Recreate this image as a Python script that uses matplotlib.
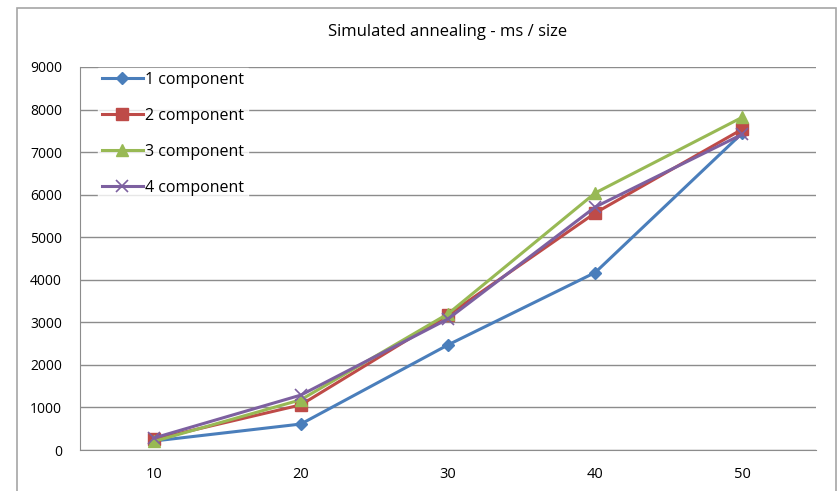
import matplotlib
matplotlib.use('Agg')
from matplotlib import pyplot as plt
from matplotlib.patches import Rectangle

plt.rcParams['font.family'] = ['Open Sans', 'DejaVu Sans']

sizes = ['10', '20', '30', '40', '50']
comp1 = [210, 610, 2470, 4170, 7450]
comp2 = [250, 1060, 3170, 5570, 7540]
comp3 = [200, 1180, 3200, 6040, 7820]
comp4 = [280, 1290, 3080, 5710, 7420]
labels = ['1 component', '2 component', '3 component', '4 component']

fig = plt.figure(figsize=(8.4, 4.91), dpi=100)
ax = fig.add_axes([80 / 840, 41 / 491, 736 / 840, 383 / 491])

# chart border
fig.patches.append(Rectangle((17 / 840, -0.1), 819 / 840, (491 - 8) / 491 + 0.1,
                             transform=fig.transFigure, fill=False,
                             edgecolor='#a6a6a6', linewidth=1.2))

x = range(len(sizes))
ax.plot(x, comp1, color='#4a7ebb', lw=2.2, marker='D', ms=6, label=labels[0])
ax.plot(x, comp2, color='#be4b48', lw=2.2, marker='s', ms=8, label=labels[1])
ax.plot(x, comp3, color='#98b954', lw=2.2, marker='^', ms=8, label=labels[2])
ax.plot(x, comp4, color='#7d60a0', lw=2.2, marker='x', ms=8, mew=1.2, label=labels[3])

ax.set_xlim(-0.5, len(sizes) - 0.5)
ax.set_xticks(list(x))
ax.set_xticklabels(sizes)
ax.set_ylim(0, 9000)
ax.set_yticks(range(0, 9001, 1000))
ax.yaxis.grid(True, color='#8c8c8c', linewidth=1)
ax.set_axisbelow(True)
for s in ['top', 'right']:
    ax.spines[s].set_visible(False)
for s in ['left', 'bottom']:
    ax.spines[s].set_color('#8c8c8c')
ax.tick_params(axis='y', length=0, labelsize=10, pad=13)
ax.tick_params(axis='x', length=0, labelsize=10.5, pad=12)

ax.set_title('Simulated annealing - ms / size', fontsize=12, pad=22)

leg = ax.legend(loc='upper left', bbox_to_anchor=(0.013, 1.018), frameon=True,
                fontsize=11.5, handlelength=2.6, handletextpad=0.1,
                labelspacing=1.25, borderpad=0.25, fancybox=False)
leg.get_frame().set_facecolor('white')
leg.get_frame().set_edgecolor('white')

fig.savefig('out.png', dpi=100)
